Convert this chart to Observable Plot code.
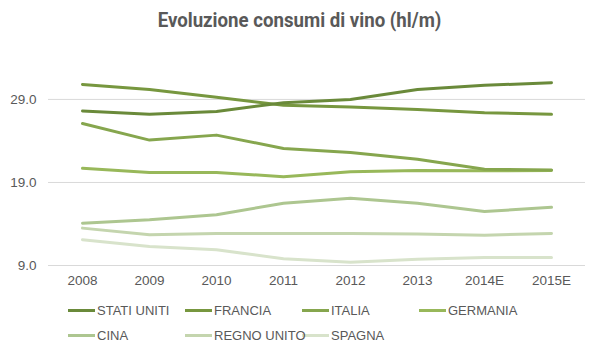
<!DOCTYPE html>
<html>
<head>
<meta charset="utf-8">
<script src="https://cdn.jsdelivr.net/npm/d3@7"></script>
<script src="https://cdn.jsdelivr.net/npm/@observablehq/plot@0.6"></script>
<style>
  html, body { margin: 0; padding: 0; background: #fff; }
  #wrap { width: 599px; height: 353px; position: relative; overflow: hidden; }
  #title { position: absolute; left: 0; top: 8px; width: 599px; text-align: center;
    font-family: "Roboto", sans-serif; font-weight: bold;
    font-size: 20.5px; color: #595959; transform: scaleX(0.91); transform-origin: 299.5px 0; }
  #chart { position: absolute; left: 0; top: 45px; }
  #legend { position: absolute; left: 68px; top: 301px; width: 520px;
    font-family: "Liberation Sans", Arial, sans-serif; font-size: 13px; color: #595959; }
  .item { position: absolute; display: flex; align-items: center; white-space: nowrap; height: 18px; }
  .sw { width: 27px; height: 3px; margin-right: 2px; flex: none; }
</style>
</head>
<body>
<div id="wrap">
  <div id="title">Evoluzione consumi di vino (hl/m)</div>
  <div id="chart"></div>
  <div id="legend"></div>
</div>
<script>
const years = ["2008", "2009", "2010", "2011", "2012", "2013", "2014E", "2015E"];
const countries = ["STATI UNITI", "FRANCIA", "ITALIA", "GERMANIA", "CINA", "REGNO UNITO", "SPAGNA"];
const colors = ["#6a8a3a", "#77973f", "#86a64e", "#98b85a", "#adc690", "#c4d5ae", "#d8e3cb"];
const statiUniti = [27.6, 27.2, 27.55, 28.6, 29.0, 30.2, 30.7, 31.0];
const francia    = [30.8, 30.2, 29.25, 28.3, 28.1, 27.8, 27.4, 27.2];
const italia     = [26.1, 24.1, 24.7, 23.1, 22.6, 21.8, 20.6, 20.5];
const germania   = [20.7, 20.2, 20.2, 19.7, 20.3, 20.45, 20.4, 20.45];
const cina       = [14.1, 14.5, 15.1, 16.5, 17.1, 16.5, 15.5, 16.0];
const regnoUnito = [13.5, 12.7, 12.85, 12.85, 12.85, 12.8, 12.65, 12.85];
const spagna     = [12.1, 11.3, 10.9, 9.8, 9.4, 9.75, 9.95, 9.95];
const yTicks = [9, 19, 29];

const series = [statiUniti, francia, italia, germania, cina, regnoUnito, spagna];
const data = [];
series.forEach((vals, i) => vals.forEach((v, j) => data.push({country: countries[i], year: years[j], value: v})));

const chart = Plot.plot({
  width: 599,
  height: 250,
  marginLeft: 48,
  marginRight: 14,
  marginTop: 29,
  marginBottom: 30,
  style: { fontFamily: "Liberation Sans, Arial, sans-serif", fontSize: "13.5px", color: "#595959", background: "#fff" },
  x: { type: "point", domain: years, padding: 0.5, label: null, tickSize: 0, tickPadding: 10 },
  y: { domain: [9, 32], ticks: yTicks, tickFormat: d => d.toFixed(1), label: null, tickSize: 0, tickPadding: 12 },
  color: { domain: countries, range: colors },
  marks: [
    Plot.ruleY(yTicks, { stroke: "#d9d9d9", strokeWidth: 1 }),
    Plot.axisX({ tickSize: 0, tickPadding: 10, fill: "#595959", label: null }),
    Plot.axisY({ ticks: yTicks, tickFormat: d => d.toFixed(1), tickSize: 0, tickPadding: 12, fill: "#595959", label: null }),
    ...countries.slice().reverse().map(c =>
      Plot.line(data.filter(d => d.country === c), { x: "year", y: "value", stroke: "country", strokeWidth: 3, strokeLinejoin: "round", strokeLinecap: "round" })
    )
  ]
});
document.getElementById("chart").appendChild(chart);

const legend = document.getElementById("legend");
countries.forEach((c, i) => {
  const col = i < 4 ? i : i - 4;
  const row = i < 4 ? 0 : 1;
  const el = document.createElement("div");
  el.className = "item";
  el.style.left = (col * 117) + "px";
  el.style.top = (row * 25) + "px";
  el.style.zIndex = 10 - i;
  el.innerHTML = `<span class="sw" style="background:${colors[i]}"></span><span>${c}</span>`;
  legend.appendChild(el);
});
</script>
</body>
</html>
